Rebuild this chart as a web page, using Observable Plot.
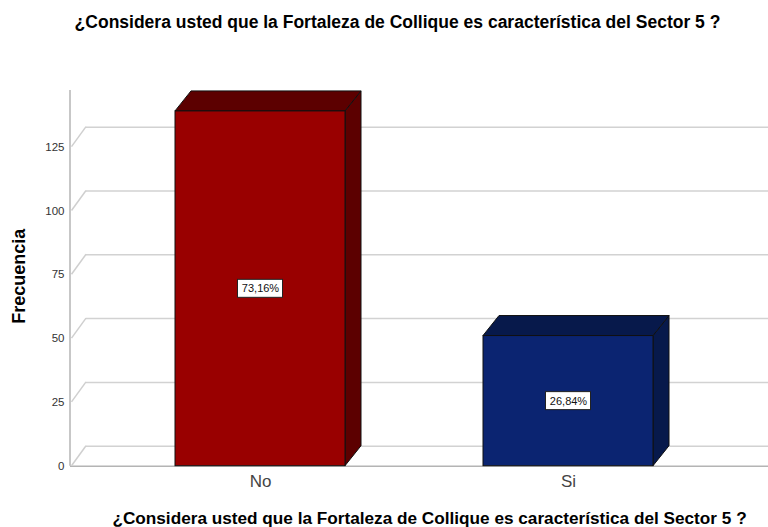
<!DOCTYPE html>
<html>
<head>
<meta charset="utf-8">
<script src="https://cdn.jsdelivr.net/npm/d3@7"></script>
<script src="https://cdn.jsdelivr.net/npm/@observablehq/plot@0.6"></script>
<style>
  html, body { margin: 0; padding: 0; background: #fff; }
  body { width: 768px; height: 527px; overflow: hidden; font-family: "Liberation Sans", Arial, sans-serif; }
  #title { height: 40px; box-sizing: border-box; padding-top: 12px; padding-left: 27px; text-align: center;
           font-size: 17.5px; line-height: 20px; font-weight: bold; color: #000; white-space: nowrap; }
  #chart svg [aria-label^="x-axis"] text { font-size: 17px; fill: #444; }
  #chart svg [aria-label^="y-axis"] text { font-size: 11.5px; fill: #333; }
</style>
</head>
<body>
<div id="title">¿Considera usted que la Fortaleza de Collique es característica del Sector 5 ?</div>
<div id="chart"></div>
<script>
const categories = ["No", "Si"];
const counts = [139, 51];
const frontColors = ["#990000", "#0b2471"];
const darkColors = ["#5c0000", "#07194b"];
const yTicks = [0, 25, 50, 75, 100, 125];
const titleText = "¿Considera usted que la Fortaleza de Collique es característica del Sector 5 ?";
const yLabel = "Frecuencia";

const total = d3.sum(counts);
const data = categories.map((c, i) => ({
  cat: c, n: counts[i], front: frontColors[i], dark: darkColors[i],
  pct: (counts[i] / total * 100).toFixed(2).replace(".", ",") + "%"
}));

const DX = 16, DY = 20;

function bw(s) { return typeof s.bandwidth === "function" ? s.bandwidth() : s.bandwidth; }

// back wall diagonals, axis line, and 3D faces (top + side)
function backAndFaces(index, scales, values, dimensions) {
  const g = d3.create("svg:g");
  const x = scales.x, y = scales.y;
  const ax = dimensions.marginLeft;
  for (const v of yTicks) {
    g.append("line").attr("x1", ax + 1.5).attr("y1", y(v)).attr("x2", ax + DX).attr("y2", y(v) - DY)
      .attr("stroke", "#cfcfcf").attr("stroke-width", 1.5);
  }
  g.append("line").attr("x1", ax).attr("x2", ax).attr("y1", y(y.domain()[1])).attr("y2", y(0))
    .attr("stroke", "#b4b4b4").attr("stroke-width", 1.5);
  const w = bw(x);
  for (const d of data) {
    const x0 = x(d.cat), x1 = x0 + w, yt = y(d.n), yb = y(0);
    const side = [[x1, yt], [x1 + DX, yt - DY], [x1 + DX, yb - DY], [x1, yb]];
    const top = [[x0, yt], [x0 + DX, yt - DY], [x1 + DX, yt - DY], [x1, yt]];
    for (const p of [side, top]) {
      g.append("path").attr("d", "M" + p.map(q => q.join(",")).join("L") + "Z")
        .attr("fill", d.dark).attr("stroke", "#111").attr("stroke-width", 1).attr("stroke-linejoin", "round");
    }
  }
  return g.node();
}

function labelBoxes(index, scales) {
  const g = d3.create("svg:g");
  const x = scales.x, y = scales.y, w = bw(x);
  for (const d of data) {
    const cx = x(d.cat) + w / 2, cy = y(d.n / 2);
    g.append("rect").attr("x", cx - 22.5).attr("y", cy - 9).attr("width", 45).attr("height", 18)
      .attr("fill", "#fff").attr("stroke", "#222").attr("stroke-width", 1);
  }
  return g.node();
}

const chart = Plot.plot({
  width: 768,
  height: 487,
  marginTop: 50,
  marginBottom: 61.3,
  marginLeft: 70,
  marginRight: 0,
  style: { fontFamily: "'Liberation Sans', Arial, sans-serif", background: "white", color: "#333" },
  x: { domain: categories, range: [70, 758], paddingInner: 0.4466, paddingOuter: 0.3366, label: null, tickSize: 0, tickPadding: 9 },
  y: { domain: [0, 147.2], ticks: yTicks, tickSize: 0, tickPadding: 6, label: null },
  marks: [
    Plot.ruleY(yTicks, { dx: DX, dy: -DY, stroke: "#d2d2d2", strokeWidth: 1.5 }),
    Plot.ruleY([0], { stroke: "#b4b4b4", strokeWidth: 1.5 }),
    backAndFaces,
    Plot.barY(data, { x: "cat", y: "n", fill: "front", stroke: "#111", strokeWidth: 1 }),
    labelBoxes,
    Plot.text(data, { x: "cat", y: d => d.n / 2, text: "pct", fill: "#111", fontSize: 11 }),
    Plot.text([yLabel], { frameAnchor: "left", textAnchor: "middle", lineAnchor: "middle", rotate: -90, dx: -51, dy: -2, fontSize: 18, fontWeight: "bold", fill: "#000" }),
    Plot.text([titleText], { frameAnchor: "bottom", textAnchor: "middle", lineAnchor: "middle", dx: 10, dy: 52.5, fontSize: 17.2, fontWeight: "bold", fill: "#000" })
  ]
});
document.getElementById("chart").appendChild(chart);
</script>
</body>
</html>
